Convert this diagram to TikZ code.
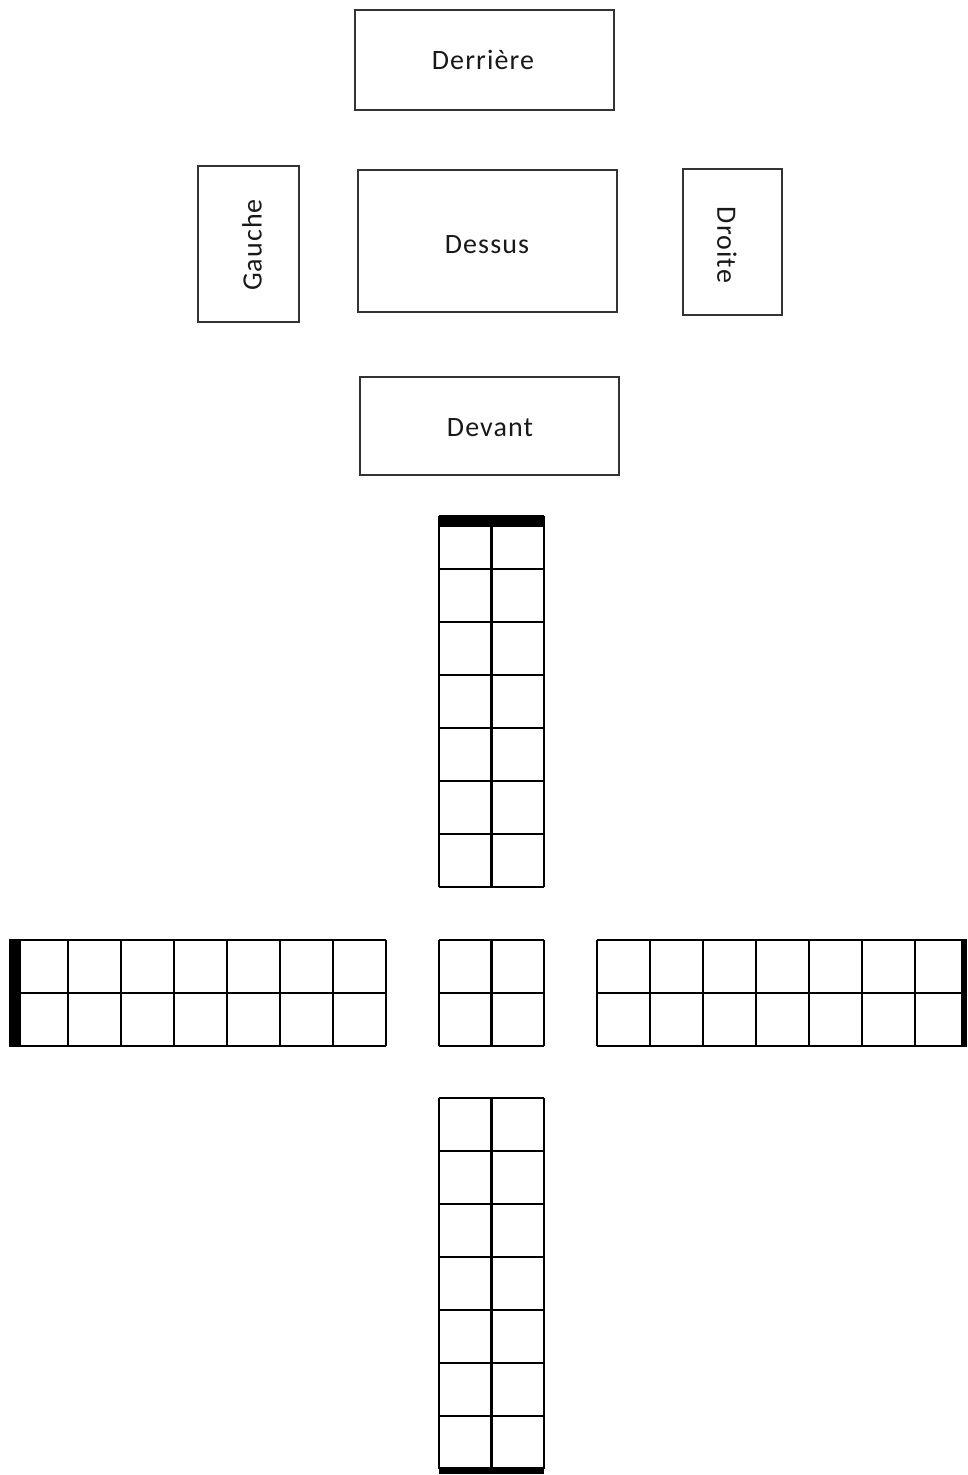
\documentclass[tikz,border=0pt]{standalone}
\usepackage{fontspec}
\setmainfont{Carlito}
\begin{document}
\begin{tikzpicture}[x=1pt,y=-1pt,
  facefont/.style={text=black!90,font=\fontsize{28}{32}\selectfont\addfontfeature{LetterSpace=4}},
  facebox/.style={draw=black!80,line width=2pt,inner sep=0pt,facefont},
  gridline/.style={draw=black,line width=2.6pt},
  thickbar/.style={fill=black,draw=none}]
\useasboundingbox (0,0) rectangle (967,1475);
% face boxes
\node[facebox,minimum width=259pt,minimum height=100pt] (derriere) at (484.5,60) {};
\node[facefont] (derrieret) at (483,60) {Derrière};
\node[facebox,minimum width=101pt,minimum height=156pt] (gauche) at (248.5,244) {};
\node[rotate=90,facefont] (gauchet) at (252,245) {Gauche};
\node[facebox,minimum width=259pt,minimum height=142pt] (dessus) at (487.5,241) {};
\node[facefont] (dessust) at (487,245) {Dessus};
\node[facebox,minimum width=99pt,minimum height=146pt] (droite) at (732.5,242) {};
\node[rotate=-90,facefont] (droitet) at (727,245) {Droite};
\node[facebox,minimum width=259pt,minimum height=98pt] (devant) at (489.5,426) {};
\node[facefont] (devantt) at (490,428) {Devant};
% top strip (2 x 7)
\foreach \i in {0,...,7} \draw[gridline] (439,516+53*\i) -- (544,516+53*\i);
\foreach \x in {439,491.5,544} \draw[gridline] (\x,516) -- (\x,887);
% centre square (2 x 2)
\foreach \y in {940,993,1046} \draw[gridline] (439,\y) -- (544,\y);
\foreach \x in {439,491.5,544} \draw[gridline] (\x,940) -- (\x,1046);
% bottom strip (2 x 7)
\foreach \i in {0,...,7} \draw[gridline] (439,1098+53*\i) -- (544,1098+53*\i);
\foreach \x in {439,491.5,544} \draw[gridline] (\x,1098) -- (\x,1469);
% left strip (7 x 2)
\foreach \y in {940,993,1046} \draw[gridline] (15,\y) -- (386,\y);
\foreach \i in {0,...,7} \draw[gridline] (386-53*\i,940) -- (386-53*\i,1046);
% right strip (7 x 2)
\foreach \y in {940,993,1046} \draw[gridline] (597,\y) -- (965,\y);
\foreach \i in {0,...,6} \draw[gridline] (597+53*\i,940) -- (597+53*\i,1046);
% thick edges
\fill[black] (439,515) rectangle (544,527);
\fill[black] (9,939) rectangle (21,1047);
\fill[black] (961,939) rectangle (967,1047);
\fill[black] (439,1467) rectangle (544,1474);
\end{tikzpicture}
\end{document}
